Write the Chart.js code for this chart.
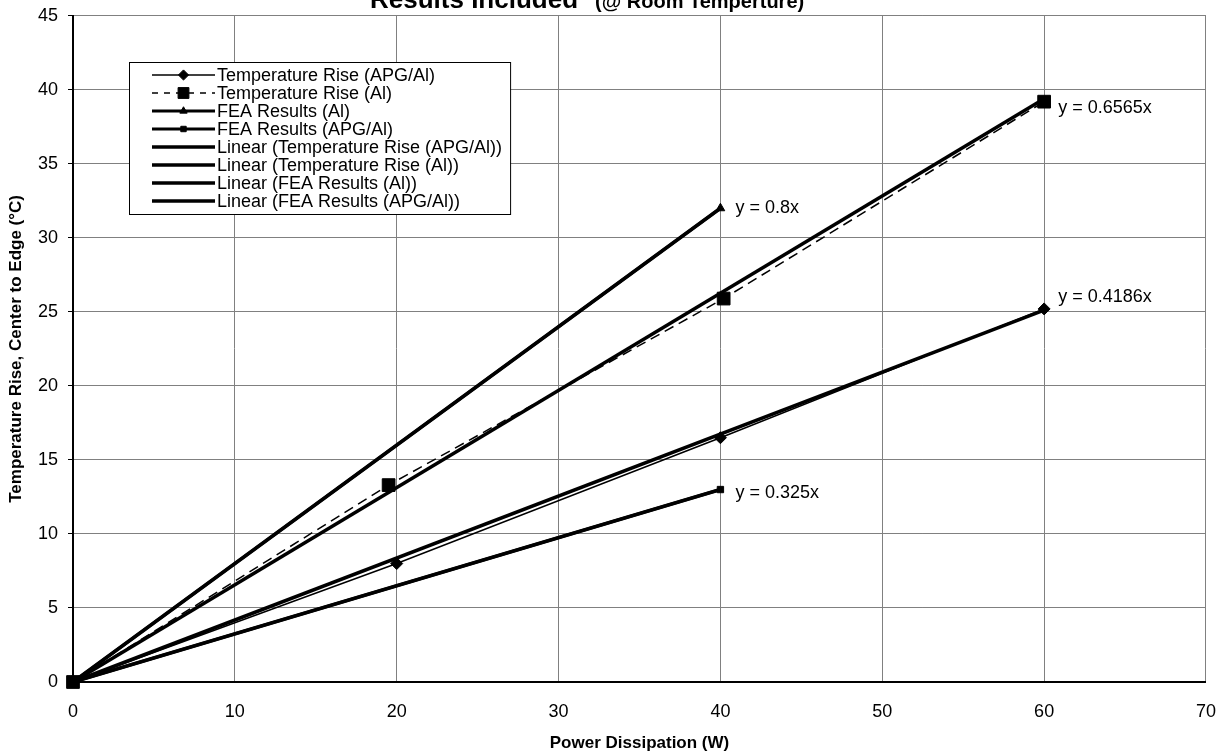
<!DOCTYPE html>
<html>
<head>
<meta charset="utf-8">
<script src="https://cdn.jsdelivr.net/npm/chart.js@4.4.0/dist/chart.umd.min.js"></script>
<style>
  html, body { margin: 0; padding: 0; background: #fff; overflow: hidden; }
  /* canvas a bit larger than the window, shifted up, so the plot area lands where the reference has it */
  #wrap { width: 1235px; height: 761px; margin-top: -5px; position: relative; }
</style>
</head>
<body>
<div id="wrap"><canvas id="chart"></canvas></div>
<script>
// measured points
const riseApgX = [0, 20, 40, 60];
const riseApgY = [0, 8.0, 16.5, 25.2];
const riseAlX = [0, 19.5, 40.2, 60];
const riseAlY = [0, 13.3, 25.9, 39.2];
const feaAlX = [0, 40];
const feaAlY = [0, 32];
const feaApgX = [0, 40];
const feaApgY = [0, 13];

// linear trend lines (through origin), end values from the equations shown
const trendLongX = [0, 60];
const trendShortX = [0, 40];
const trendApgY = [0, 25.12];
const trendAlY = [0, 39.39];
const trendFeaAlY = [0, 32];
const trendFeaApgY = [0, 13];
const trendText = ['y = 0.4186x', 'y = 0.6565x', 'y = 0.8x', 'y = 0.325x'];

const FONT = '"Liberation Sans", Arial, sans-serif';

function pts(xs, ys) {
  return xs.map((x, i) => ({ x: x, y: ys[i] }));
}

const datasets = [
  { label: 'Temperature Rise (APG/Al)', data: pts(riseApgX, riseApgY), borderWidth: 1.5,
    pointStyle: 'rectRot', pointRadius: 6 },
  { label: 'Temperature Rise (Al)', data: pts(riseAlX, riseAlY), borderWidth: 1.5, borderDash: [10, 6],
    pointStyle: 'rect', pointRadius: 9 },
  { label: 'FEA Results (Al)', data: pts(feaAlX, feaAlY), borderWidth: 3,
    pointStyle: 'triangle', pointRadius: 5 },
  { label: 'FEA Results (APG/Al)', data: pts(feaApgX, feaApgY), borderWidth: 3,
    pointStyle: 'rect', pointRadius: 4.5 },
  { label: 'Linear (Temperature Rise (APG/Al))', data: pts(trendLongX, trendApgY), borderWidth: 3.5, pointRadius: 0, eq: 0 },
  { label: 'Linear (Temperature Rise (Al))', data: pts(trendLongX, trendAlY), borderWidth: 3.5, pointRadius: 0, eq: 1 },
  { label: 'Linear (FEA Results (Al))', data: pts(trendShortX, trendFeaAlY), borderWidth: 3.5, pointRadius: 0, eq: 2 },
  { label: 'Linear (FEA Results (APG/Al))', data: pts(trendShortX, trendFeaApgY), borderWidth: 3.5, pointRadius: 0, eq: 3 }
].map(d => Object.assign({
  borderColor: '#000', backgroundColor: '#000', pointBackgroundColor: '#000',
  pointBorderColor: '#000', pointBorderWidth: 1, tension: 0, clip: false, fill: false
}, d));

// offsets of the equation text from the end of each trend line
const eqOffsets = [[14, -13], [14, 9], [15, 0], [15, 3]];

const titlePlugin = {
  id: 'clippedTitle',
  afterDraw(chart) {
    const ctx = chart.ctx;
    ctx.save();
    ctx.fillStyle = '#000';
    ctx.textBaseline = 'alphabetic';
    ctx.font = 'bold 26px ' + FONT;
    const t1 = 'Results Included';
    const w1 = ctx.measureText(t1).width;
    ctx.fillText(t1, 370, 13);
    ctx.font = 'bold 20px ' + FONT;
    ctx.fillText('(@ Room Temperture)', 370 + w1 + 17, 13);
    ctx.restore();
  }
};

const eqPlugin = {
  id: 'trendEquations',
  afterDatasetsDraw(chart) {
    const ctx = chart.ctx;
    const xs = chart.scales.x, ys = chart.scales.y;
    ctx.save();
    ctx.fillStyle = '#000';
    ctx.font = '18px ' + FONT;
    ctx.textBaseline = 'middle';
    chart.data.datasets.forEach(d => {
      if (d.eq === undefined) return;
      const last = d.data[d.data.length - 1];
      const off = eqOffsets[d.eq];
      ctx.fillText(trendText[d.eq], xs.getPixelForValue(last.x) + off[0], ys.getPixelForValue(last.y) + off[1]);
    });
    ctx.restore();
  }
};

const legendPlugin = {
  id: 'insetLegend',
  afterDraw(chart) {
    const ctx = chart.ctx;
    const sets = chart.data.datasets;
    const left = 129, top = 67, rowH = 18, s0 = 152, s1 = 215, textX = 217;
    ctx.save();
    ctx.font = '18px ' + FONT;
    let maxW = 0;
    sets.forEach(d => { maxW = Math.max(maxW, ctx.measureText(d.label).width); });
    const w = textX + maxW + 8 - left;
    const h = rowH * sets.length + 8;
    ctx.fillStyle = '#fff';
    ctx.fillRect(left, top, w, h);
    ctx.strokeStyle = '#000';
    ctx.lineWidth = 1;
    ctx.strokeRect(left + 0.5, top + 0.5, w, h);
    sets.forEach((d, i) => {
      const y = top + 13 + i * rowH;
      ctx.strokeStyle = '#000';
      ctx.fillStyle = '#000';
      ctx.setLineDash(d.borderDash ? [6, 6] : []);
      ctx.lineWidth = d.borderWidth;
      ctx.beginPath();
      ctx.moveTo(s0, y);
      ctx.lineTo(s1, y);
      ctx.stroke();
      ctx.setLineDash([]);
      if (d.pointRadius > 0) {
        ctx.lineWidth = 1;
        Chart.helpers.drawPoint(ctx, { pointStyle: d.pointStyle, radius: d.pointRadius * 0.85, borderWidth: 1 }, (s0 + s1) / 2, y);
      }
      ctx.textBaseline = 'middle';
      ctx.fillText(d.label, textX, y + 1);
    });
    ctx.restore();
  }
};

new Chart(document.getElementById('chart'), {
  type: 'line',
  data: { datasets: datasets },
  plugins: [titlePlugin, eqPlugin, legendPlugin],
  options: {
    responsive: true,
    maintainAspectRatio: false,
    animation: false,
    layout: { padding: { top: 10, right: 10, left: 0, bottom: 0 } },
    plugins: { legend: { display: false }, tooltip: { enabled: false } },
    scales: {
      x: {
        type: 'linear', min: 0, max: 70,
        ticks: { stepSize: 10, color: '#000', font: { family: FONT, size: 18 }, padding: 19 },
        grid: { color: '#808080', lineWidth: 1, drawTicks: false },
        border: { color: '#000', width: 2 },
        title: { display: true, text: 'Power Dissipation (W)', color: '#000',
          font: { family: FONT, size: 17, weight: 'bold' }, padding: { top: 0, bottom: 2 } },
        afterFit(scale) { scale.height = 74; }
      },
      y: {
        type: 'linear', min: 0, max: 45,
        ticks: { stepSize: 5, color: '#000', font: { family: FONT, size: 18 }, padding: 10 },
        grid: { color: '#808080', lineWidth: 1, tickLength: 5, tickColor: '#000' },
        border: { color: '#000', width: 2 },
        title: { display: true, text: 'Temperature Rise, Center to Edge (°C)', color: '#000',
          font: { family: FONT, size: 17, weight: 'bold' }, padding: { top: 6, bottom: 0 } },
        afterFit(scale) { scale.width = 73; }
      }
    }
  }
});
</script>
</body>
</html>
